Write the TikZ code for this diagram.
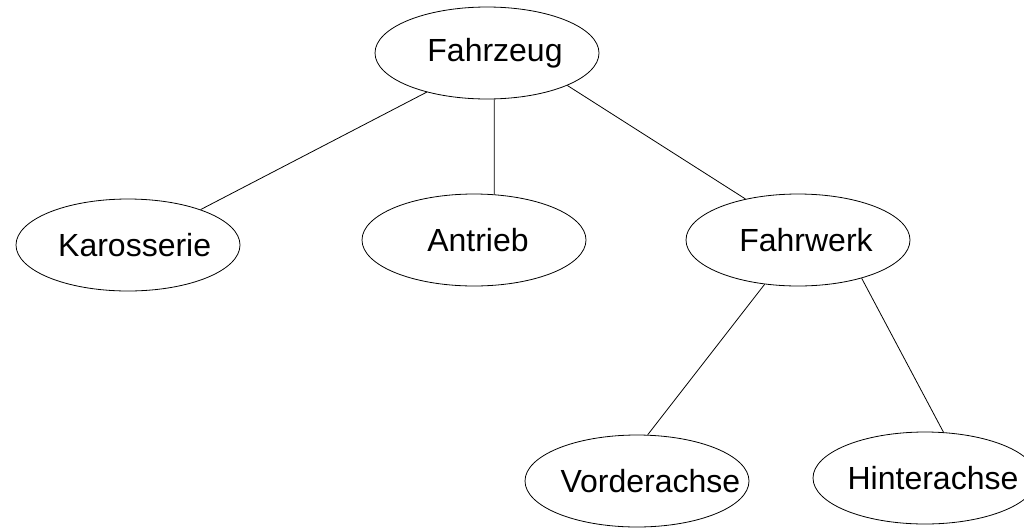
\documentclass[tikz,border=0pt]{standalone}
\usepackage{fontspec}
\setmainfont{Liberation Sans}
\usetikzlibrary{shapes.geometric}
\begin{document}
\begin{tikzpicture}[x=0.75pt,y=-0.75pt,
  part/.style={ellipse,draw,line width=0.6pt,minimum width=168pt,minimum height=69pt,inner sep=0pt},
  partlabel/.style={font=\fontsize{24}{28}\selectfont,inner sep=0pt},
  link/.style={line width=0.6pt}]
\useasboundingbox (0,0) rectangle (1024,529);
% tree nodes; the label carries the text so long words can overrun the ellipse
\node[part,label={[partlabel,xshift=6pt]center:Fahrzeug}] (fz) at (487,53) {};
\node[part,label={[partlabel,xshift=5pt]center:Karosserie}] (ka) at (128,245) {};
\node[part,label={[partlabel,xshift=3pt]center:Antrieb}] (an) at (474,240) {};
\node[part,label={[partlabel,xshift=6pt]center:Fahrwerk}] (fw) at (798,240) {};
\node[part,label={[partlabel,xshift=10pt]center:Vorderachse}] (va) at (637,481) {};
\node[part,label={[partlabel,xshift=6pt]center:Hinterachse}] (ha) at (925,478) {};
% connectors
\draw[link] (fz.213) -- (ka.26);
\draw[link] (fz.279) -- (an.66);
\draw[link] (fz.338) -- (fw.142);
\draw[link] (fw.233) -- (va.77);
\draw[link] (fw.329) -- (ha.68);
\end{tikzpicture}
\end{document}
